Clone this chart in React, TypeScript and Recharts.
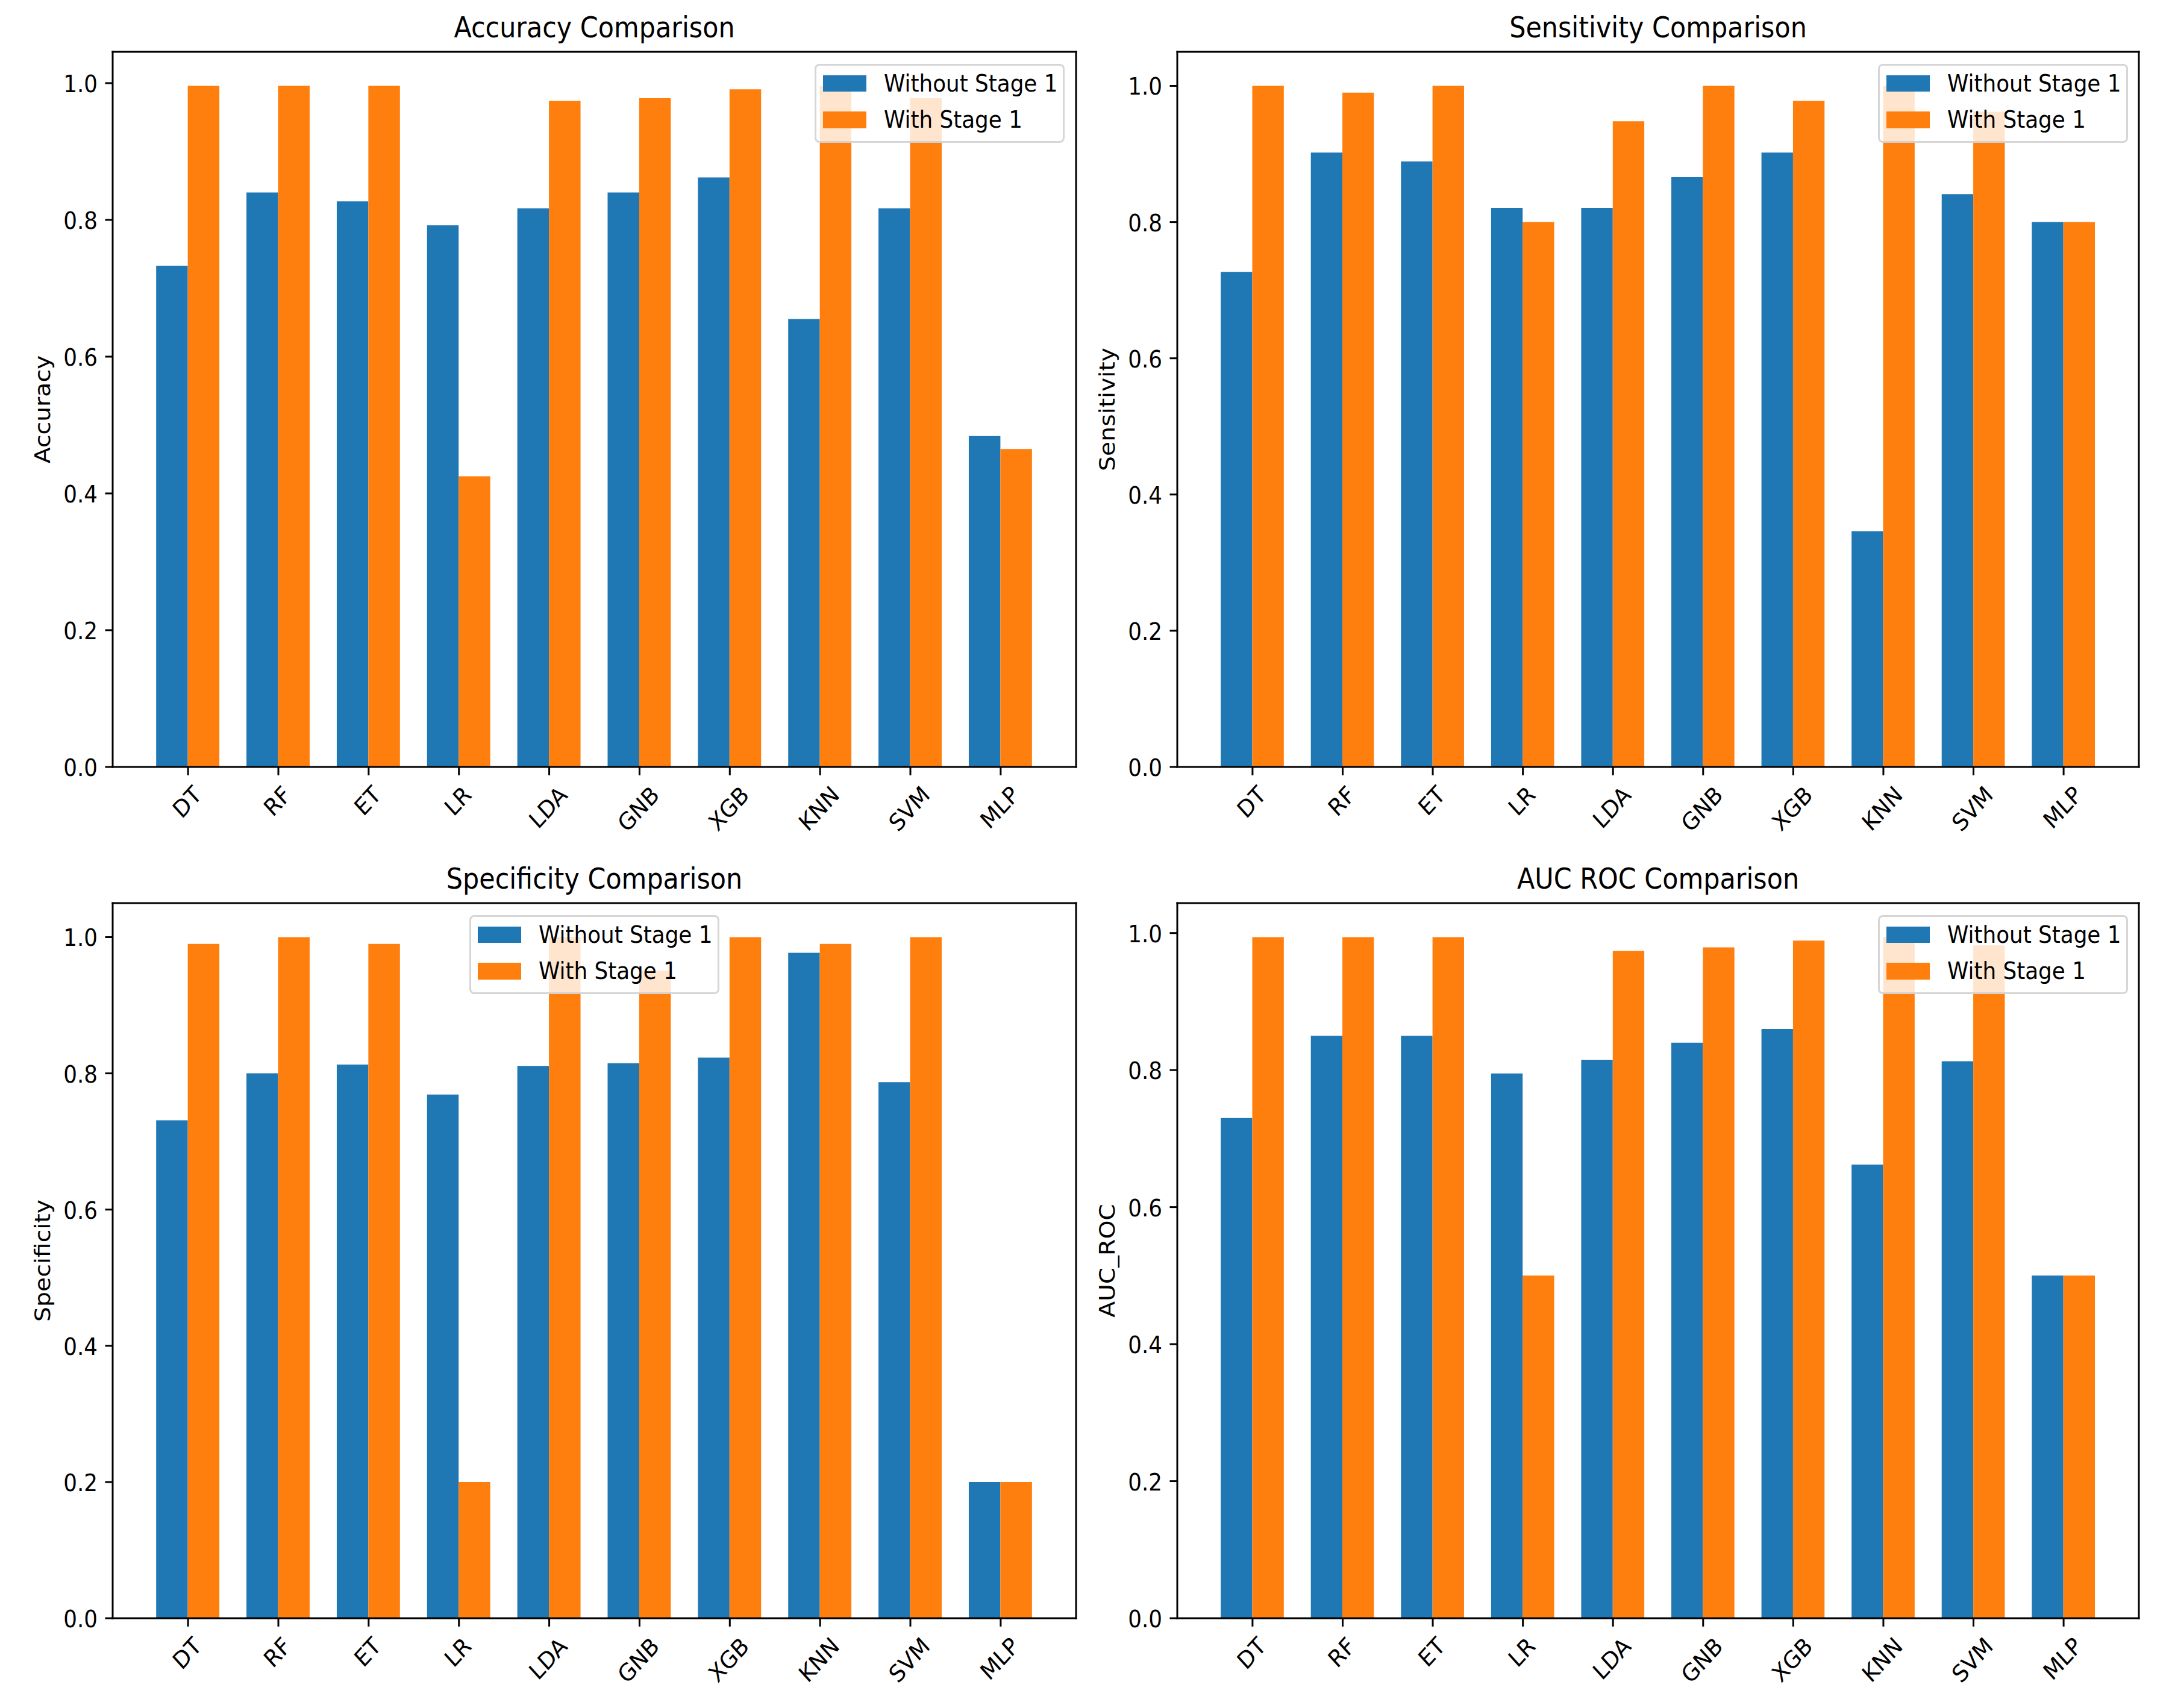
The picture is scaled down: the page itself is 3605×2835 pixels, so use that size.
import React from 'react';
import { BarChart, Bar, XAxis, YAxis, Legend } from 'recharts';

// ---------- data ----------
const categories = ['DT', 'RF', 'ET', 'LR', 'LDA', 'GNB', 'XGB', 'KNN', 'SVM', 'MLP'];

const accuracyWithout = [0.733, 0.840, 0.827, 0.792, 0.817, 0.840, 0.862, 0.655, 0.817, 0.484];
const accuracyWith = [0.996, 0.996, 0.996, 0.425, 0.974, 0.978, 0.991, 0.996, 0.978, 0.465];

const sensitivityWithout = [0.727, 0.902, 0.889, 0.821, 0.821, 0.866, 0.902, 0.346, 0.841, 0.800];
const sensitivityWith = [1.0, 0.990, 1.0, 0.800, 0.948, 1.0, 0.978, 1.0, 0.962, 0.800];

const specificityWithout = [0.731, 0.800, 0.813, 0.769, 0.811, 0.815, 0.823, 0.977, 0.787, 0.200];
const specificityWith = [0.990, 1.0, 0.990, 0.200, 1.0, 0.951, 1.0, 0.990, 1.0, 0.200];

const aucWithout = [0.730, 0.850, 0.850, 0.795, 0.815, 0.840, 0.860, 0.662, 0.813, 0.500];
const aucWith = [0.994, 0.994, 0.994, 0.500, 0.974, 0.979, 0.989, 0.994, 0.982, 0.500];

const yTicks = [0, 0.2, 0.4, 0.6, 0.8, 1.0];
const seriesNames = ['Without Stage 1', 'With Stage 1'];
const seriesColors = ['#1f77b4', '#ff7f0e'];

// ---------- styling constants ----------
const SX = 0.858;
const SY = 0.945;
const FS = 41.67;
const TFS = 50;
const FONT = 'DejaVu Sans';
const AX = 1; // axis box thickness used by recharts for layout

const charW: Record<string, number> = {
  D: 1577, T: 1251, R: 1423, F: 1178, E: 1294, L: 1141, A: 1401, G: 1589,
  N: 1532, B: 1405, X: 1403, K: 1343, S: 1300, V: 1401, M: 1767, P: 1235,
};
const textWidth = (s: string) =>
  (s.split('').reduce((a, c) => a + (charW[c] || 1300), 0) / 2048) * FS;

const XTick = (props: any) => {
  const { x, y, payload } = props;
  const label = String(payload.value);
  const w = textWidth(label);
  const h = 0.968 * FS;
  const cy = y + ((w + h) * 0.70711 / 2) * SY;
  return (
    <text
      transform={`translate(${x},${cy}) scale(${SX},${SY}) rotate(-45)`}
      textAnchor="middle"
      x={0}
      y={0.276 * FS}
      fontSize={FS}
      fontFamily={FONT}
      fill="#000"
    >
      {label}
    </text>
  );
};

const YTick = (props: any) => {
  const { x, y, payload } = props;
  return (
    <text
      transform={`translate(${x},${y}) scale(${SX},${SY})`}
      textAnchor="end"
      x={0}
      y={0.38 * FS}
      fontSize={FS}
      fontFamily={FONT}
      fill="#000"
    >
      {Number(payload.value).toFixed(1)}
    </text>
  );
};

const makeTitle = (title: string) => (props: any) => {
  const vb = props.viewBox || {};
  const cx = vb.x + vb.width / 2;
  const by = vb.y + (vb.height || 0) - 23.6;
  return (
    <text
      transform={`translate(${cx},${by}) scale(${SX},${SY})`}
      textAnchor="middle"
      fontSize={TFS}
      fontFamily={FONT}
      fill="#000"
    >
      {title}
    </text>
  );
};

const makeYLabel = (label: string) => (props: any) => {
  const vb = props.viewBox || {};
  const cx = vb.x + (vb.width || 0) - 113.5;
  const cy = vb.y + vb.height / 2;
  return (
    <text
      transform={`translate(${cx},${cy}) scale(${SX},${SY}) rotate(-90)`}
      textAnchor="middle"
      x={0}
      y={0.276 * FS}
      fontSize={FS}
      fontFamily={FONT}
      fill="#000"
    >
      {label}
    </text>
  );
};

const LegendBox = () => {
  const rowCenters = [29.5, 90];
  return (
    <div
      style={{
        position: 'relative',
        width: 415,
        height: 131,
        boxSizing: 'border-box',
        background: 'rgba(255,255,255,0.8)',
        border: '3px solid rgba(204,204,204,0.8)',
        borderRadius: 8,
      }}
    >
      {seriesNames.map((name, i) => (
        <React.Fragment key={name}>
          <div
            style={{
              position: 'absolute',
              left: 11.3,
              top: rowCenters[i] - 13.8,
              width: 71.5,
              height: 27.6,
              background: seriesColors[i],
            }}
          />
          <div
            style={{
              position: 'absolute',
              left: 112,
              top: rowCenters[i],
              fontFamily: FONT,
              fontSize: FS,
              lineHeight: 1.164,
              whiteSpace: 'nowrap',
              color: '#000',
              transformOrigin: '0 50%',
              transform: `translateY(-50%) scale(${SX},${SY})`,
            }}
          >
            {name}
          </div>
        </React.Fragment>
      ))}
    </div>
  );
};

type PanelProps = {
  left: number;
  top: number;
  width: number;
  height: number;
  plot: { top: number; right: number; bottom: number; left: number };
  without: number[];
  withS: number[];
  title: string;
  ylabel: string;
  legendPos: { left: number; top: number };
};

const Panel = ({ left, top, width, height, plot, without, withS, title, ylabel, legendPos }: PanelProps) => {
  const data = categories.map((c, i) => ({ name: c, without: without[i], with: withS[i] }));
  const margin = {
    top: plot.top - AX,
    bottom: plot.bottom - AX,
    left: plot.left - AX,
    right: plot.right - AX,
  };
  const plotW = width - plot.left - plot.right;
  const unit = plotW / 10.67;
  const pad = 0.335 * unit;
  const barSize = 0.35 * unit;
  const yMax = Math.max(...without, ...withS) * 1.05;
  const axisStyle = { stroke: '#000', strokeWidth: 3, strokeLinecap: 'square' as const };
  return (
    <div style={{ position: 'absolute', left, top, width, height }}>
      <BarChart width={width} height={height} data={data} margin={margin} barGap={0} barSize={barSize}>
        <XAxis
          xAxisId="x"
          dataKey="name"
          type="category"
          orientation="bottom"
          height={AX}
          padding={{ left: pad, right: pad }}
          interval={0}
          axisLine={axisStyle}
          tickLine={{ stroke: '#000', strokeWidth: 3 }}
          tickSize={13.8}
          tickMargin={13.8}
          tick={(p: any) => <XTick {...p} />}
        />
        <XAxis
          xAxisId="t"
          dataKey="name"
          type="category"
          orientation="top"
          height={AX}
          padding={{ left: pad, right: pad }}
          axisLine={axisStyle}
          tick={false}
          tickLine={false}
          label={{ content: makeTitle(title) }}
        />
        <YAxis
          yAxisId="y"
          type="number"
          orientation="left"
          width={AX}
          domain={[0, yMax]}
          allowDataOverflow
          ticks={yTicks}
          interval={0}
          axisLine={axisStyle}
          tickLine={{ stroke: '#000', strokeWidth: 3 }}
          tickSize={12.5}
          tickMargin={12.5}
          tick={(p: any) => <YTick {...p} />}
          label={{ content: makeYLabel(ylabel) }}
        />
        <YAxis
          yAxisId="r"
          type="number"
          orientation="right"
          width={AX}
          domain={[0, yMax]}
          allowDataOverflow
          axisLine={axisStyle}
          tick={false}
          tickLine={false}
        />
        <Bar xAxisId="x" yAxisId="y" dataKey="without" name={seriesNames[0]} fill={seriesColors[0]} isAnimationActive={false} />
        <Bar xAxisId="x" yAxisId="y" dataKey="with" name={seriesNames[1]} fill={seriesColors[1]} isAnimationActive={false} />
        <Legend
          layout="horizontal"
          verticalAlign="middle"
          align="center"
          content={() => <LegendBox />}
          wrapperStyle={{ left: legendPos.left, top: legendPos.top, width: 415, height: 131 }}
        />
      </BarChart>
    </div>
  );
};

export default function App() {
  const topRow = { top: 86, bottom: 144 };
  const botRow = { top: 82, bottom: 149 };
  const leftCol = { left: 187, right: 14 };
  const rightCol = { left: 154, right: 55 };
  return (
    <div style={{ position: 'absolute', left: 0, top: 0, width: 3605, height: 2835, background: '#fff', overflow: 'hidden' }}>
      <Panel
        left={0} top={0} width={1800} height={1417}
        plot={{ ...topRow, ...leftCol }}
        without={accuracyWithout} withS={accuracyWith}
        title="Accuracy Comparison" ylabel="Accuracy"
        legendPos={{ left: 1352, top: 106 }}
      />
      <Panel
        left={1800} top={0} width={1805} height={1417}
        plot={{ ...topRow, ...rightCol }}
        without={sensitivityWithout} withS={sensitivityWith}
        title="Sensitivity Comparison" ylabel="Sensitivity"
        legendPos={{ left: 1317, top: 106 }}
      />
      <Panel
        left={0} top={1417} width={1800} height={1418}
        plot={{ ...botRow, ...leftCol }}
        without={specificityWithout} withS={specificityWith}
        title="Specificity Comparison" ylabel="Specificity"
        legendPos={{ left: 779, top: 102 }}
      />
      <Panel
        left={1800} top={1417} width={1805} height={1418}
        plot={{ ...botRow, ...rightCol }}
        without={aucWithout} withS={aucWith}
        title="AUC ROC Comparison" ylabel="AUC_ROC"
        legendPos={{ left: 1317, top: 102 }}
      />
    </div>
  );
}
